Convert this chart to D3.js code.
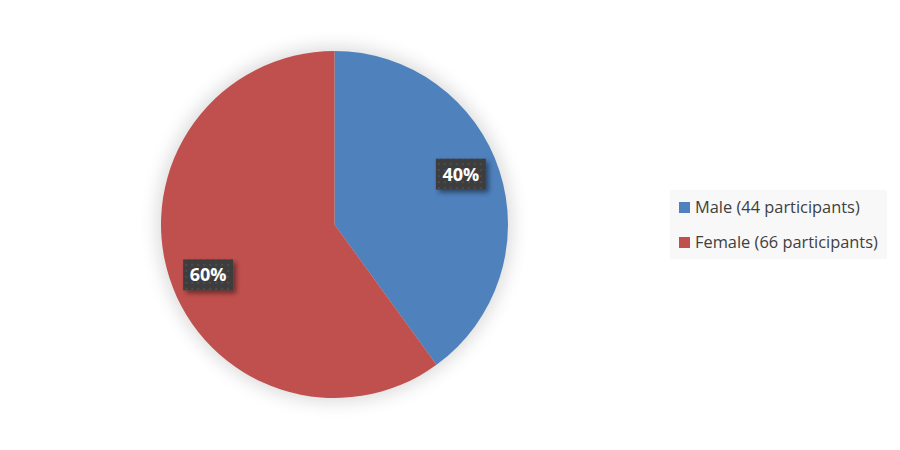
<!DOCTYPE html>
<html>
<head>
<meta charset="utf-8">
<script src="https://cdn.jsdelivr.net/npm/d3@7"></script>
<style>
  body { margin: 0; background: #fff; }
  svg { display: block; font-family: "Open Sans", "Noto Sans", sans-serif; }
</style>
</head>
<body>
<div id="chart"></div>
<script>
var categories = ["Male", "Female"];
var counts = [44, 66];
var legendLabels = ["Male (44 participants)", "Female (66 participants)"];
var colors = ["#4F81BD", "#C0504D"];

var width = 900, height = 450;
var cx = 334.5, cy = 224.5, radius = 173.5;

var svg = d3.select("#chart").append("svg")
  .attr("width", width)
  .attr("height", height);

var defs = svg.append("defs");

var glow = defs.append("filter").attr("id", "glow")
  .attr("x", "-30%").attr("y", "-30%").attr("width", "160%").attr("height", "160%");
glow.append("feGaussianBlur").attr("stdDeviation", 9);

var shadow = defs.append("filter").attr("id", "lblShadow")
  .attr("x", "-30%").attr("y", "-30%").attr("width", "160%").attr("height", "160%");
shadow.append("feDropShadow")
  .attr("dx", 3).attr("dy", 3).attr("stdDeviation", 2.5)
  .attr("flood-color", "#000").attr("flood-opacity", 0.45);

// dotted texture for the label boxes
var pat = defs.append("pattern").attr("id", "dots")
  .attr("width", 6).attr("height", 6).attr("patternUnits", "userSpaceOnUse");
pat.append("rect").attr("width", 6).attr("height", 6).attr("fill", "#3d3d3d");
pat.append("rect").attr("x", 1).attr("y", 1).attr("width", 2).attr("height", 2).attr("fill", "#4d4d4d");

var total = d3.sum(counts);
var pie = d3.pie().sort(null).value(function(d) { return d; });
var arcs = pie(counts);

var arc = d3.arc().innerRadius(0).outerRadius(radius);

var g = svg.append("g").attr("transform", "translate(" + cx + "," + cy + ")");

// soft shadow around the pie
g.append("circle")
  .attr("r", radius + 4)
  .attr("fill", "#000")
  .attr("opacity", 0.14)
  .attr("filter", "url(#glow)");

g.selectAll(".slice").data(arcs).enter()
  .append("path")
  .attr("class", "slice")
  .attr("d", arc)
  .attr("fill", function(d, i) { return colors[i]; });

// data labels
var labelR = 136, labelTurn = -0.065;
var labels = g.selectAll(".lbl").data(arcs).enter()
  .append("g")
  .attr("class", "lbl")
  .attr("transform", function(d) {
    var a = (d.startAngle + d.endAngle) / 2 + labelTurn;
    return "translate(" + (Math.sin(a) * labelR) + "," + (-Math.cos(a) * labelR) + ")";
  });

labels.append("rect")
  .attr("x", -25).attr("y", -15.5)
  .attr("width", 50).attr("height", 31)
  .attr("fill", "url(#dots)")
  .attr("filter", "url(#lblShadow)");

labels.append("text")
  .attr("text-anchor", "middle")
  .attr("dy", "0.36em")
  .attr("fill", "#fff")
  .attr("font-weight", "bold")
  .attr("font-size", "18px")
  .text(function(d) { return Math.round(d.value / total * 100) + "%"; });

// legend
var legend = svg.append("g").attr("transform", "translate(670,190)");
legend.append("rect")
  .attr("width", 217).attr("height", 69)
  .attr("fill", "#f8f8f8");

var items = legend.selectAll(".item").data(categories).enter()
  .append("g")
  .attr("class", "item")
  .attr("transform", function(d, i) { return "translate(9," + (12 + i * 35) + ")"; });

items.append("rect")
  .attr("width", 11).attr("height", 11)
  .attr("fill", function(d, i) { return colors[i]; });

items.append("text")
  .attr("x", 16).attr("y", 5.5)
  .attr("dy", "0.35em")
  .attr("fill", "#404040")
  .attr("font-size", "16.4px")
  .text(function(d, i) { return legendLabels[i]; });
</script>
</body>
</html>
